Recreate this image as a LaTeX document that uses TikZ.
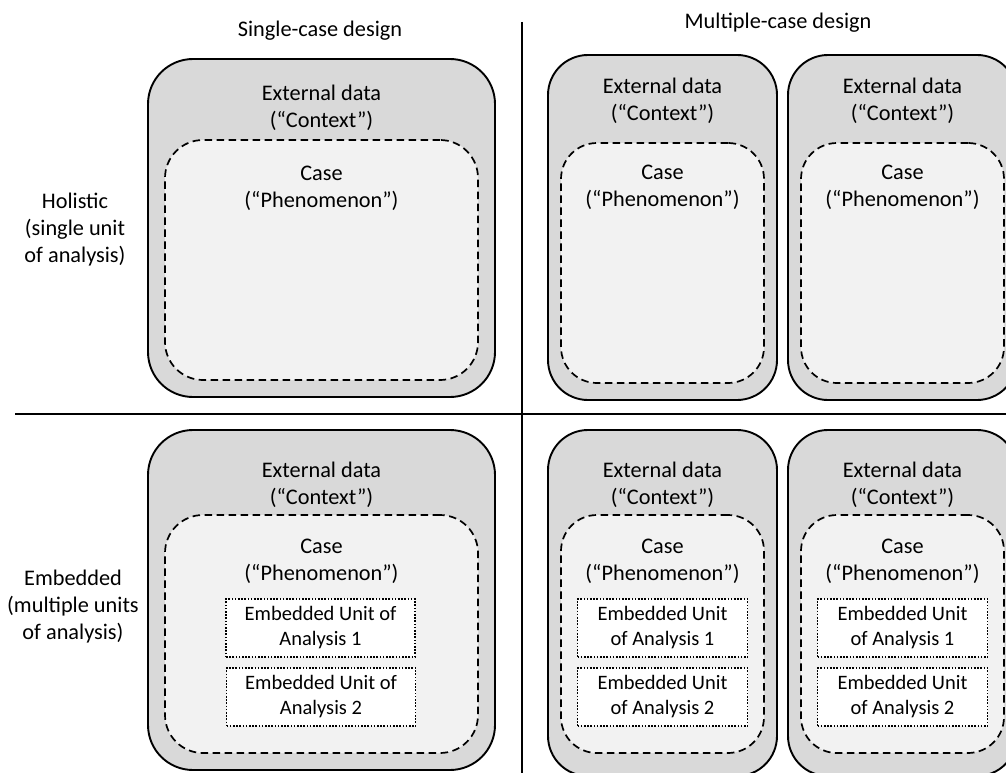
\documentclass[tikz,border=0pt]{standalone}
\usepackage{fontspec}
\setmainfont{Carlito}
\definecolor{outerfill}{HTML}{D9D9D9}
\definecolor{innerfill}{HTML}{F2F2F2}
\newcommand\labelsz{\fontsize{22.3}{27}\selectfont}
\newcommand\unitsz{\fontsize{20.5}{25}\selectfont}
\tikzset{
  outerbox/.style={draw, line width=1.9pt, fill=outerfill, inner sep=0pt},
  innerbox/.style={draw, line width=1.7pt, dash pattern=on 7.5pt off 4.5pt, fill=innerfill, inner sep=0pt},
  unitbox/.style={draw, line width=1.5pt, dash pattern=on 1.6pt off 1.6pt, fill=white, inner sep=0pt,
    minimum height=58pt, align=center, font=\unitsz},
  txt/.style={inner sep=0pt, align=center, font=\labelsz},
  divider/.style={line width=1.6pt}
}
\begin{document}
\begin{tikzpicture}[x=1pt,y=-1pt]
\useasboundingbox (0,0) rectangle (1006,773);
\clip (0,0) rectangle (1006,773);

% column headings and dividers
\node[txt] (hsingle) at (320,31) {Single-case design};
\node[txt] (hmulti) at (778,23) {Multiple-case design};
\coordinate (vtop) at (522,22);
\coordinate (vbot) at (522,773);
\coordinate (hleft) at (15,414);
\coordinate (hright) at (1006,414);
\draw[divider] (vtop) -- (vbot);
\draw[divider] (hleft) -- (hright);

% row headings
\node[txt] (rholistic) at (75,230) {Holistic\\(single unit\\of analysis)};
\node[txt] (rembedded) at (73,607) {Embedded\\(multiple units\\of analysis)};

% ---- holistic, single case
\node[outerbox, rounded corners=45pt, minimum width=347pt, minimum height=338pt] (tlout) at (321.5,228) {};
\node[innerbox, rounded corners=38pt, minimum width=313pt, minimum height=240pt] (tlin) at (321.5,260) {};
\node[txt] (tlctx) at (321.5,108) {External data\\(“Context”)};
\node[txt] (tlcase) at (321.5,188) {Case\\(“Phenomenon”)};

% ---- holistic, multiple cases
\foreach \cx/\nm in {662.5/a, 902.5/b}{
  \node[outerbox, rounded corners=40pt, minimum width=229pt, minimum height=345pt] (tr\nm out) at (\cx,227.5) {};
  \node[innerbox, rounded corners=36pt, minimum width=203pt, minimum height=240pt] (tr\nm in) at (\cx,263) {};
  \node[txt] (tr\nm ctx) at (\cx,100.5) {External data\\(“Context”)};
  \node[txt] (tr\nm case) at (\cx,187) {Case\\(“Phenomenon”)};
}

% ---- embedded, single case
\node[outerbox, rounded corners=45pt, minimum width=347pt, minimum height=340pt] (blout) at (321.5,600) {};
\node[innerbox, rounded corners=38pt, minimum width=313pt, minimum height=238pt] (blin) at (321.5,634) {};
\node[txt] (blctx) at (321.5,484.5) {External data\\(“Context”)};
\node[txt] (blcase) at (321.5,561.5) {Case\\(“Phenomenon”)};
\node[unitbox, minimum width=189pt] (blu1) at (320.5,628) {Embedded Unit of\\Analysis 1};
\node[unitbox, minimum width=189pt] (blu2) at (321,697) {Embedded Unit of\\Analysis 2};

% ---- embedded, multiple cases
\foreach \cx/\nm in {662.5/a, 902.5/b}{
  \node[outerbox, rounded corners=40pt, minimum width=229pt, minimum height=346pt] (br\nm out) at (\cx,603) {};
  \node[innerbox, rounded corners=36pt, minimum width=203pt, minimum height=238pt] (br\nm in) at (\cx,634) {};
  \node[txt] (br\nm ctx) at (\cx,484.5) {External data\\(“Context”)};
  \node[txt] (br\nm case) at (\cx,561.5) {Case\\(“Phenomenon”)};
  \node[unitbox, minimum width=170pt] (br\nm u1) at (\cx,628) {Embedded Unit\\of Analysis 1};
  \node[unitbox, minimum width=170pt] (br\nm u2) at (\cx,697) {Embedded Unit\\of Analysis 2};
}
\end{tikzpicture}
\end{document}
